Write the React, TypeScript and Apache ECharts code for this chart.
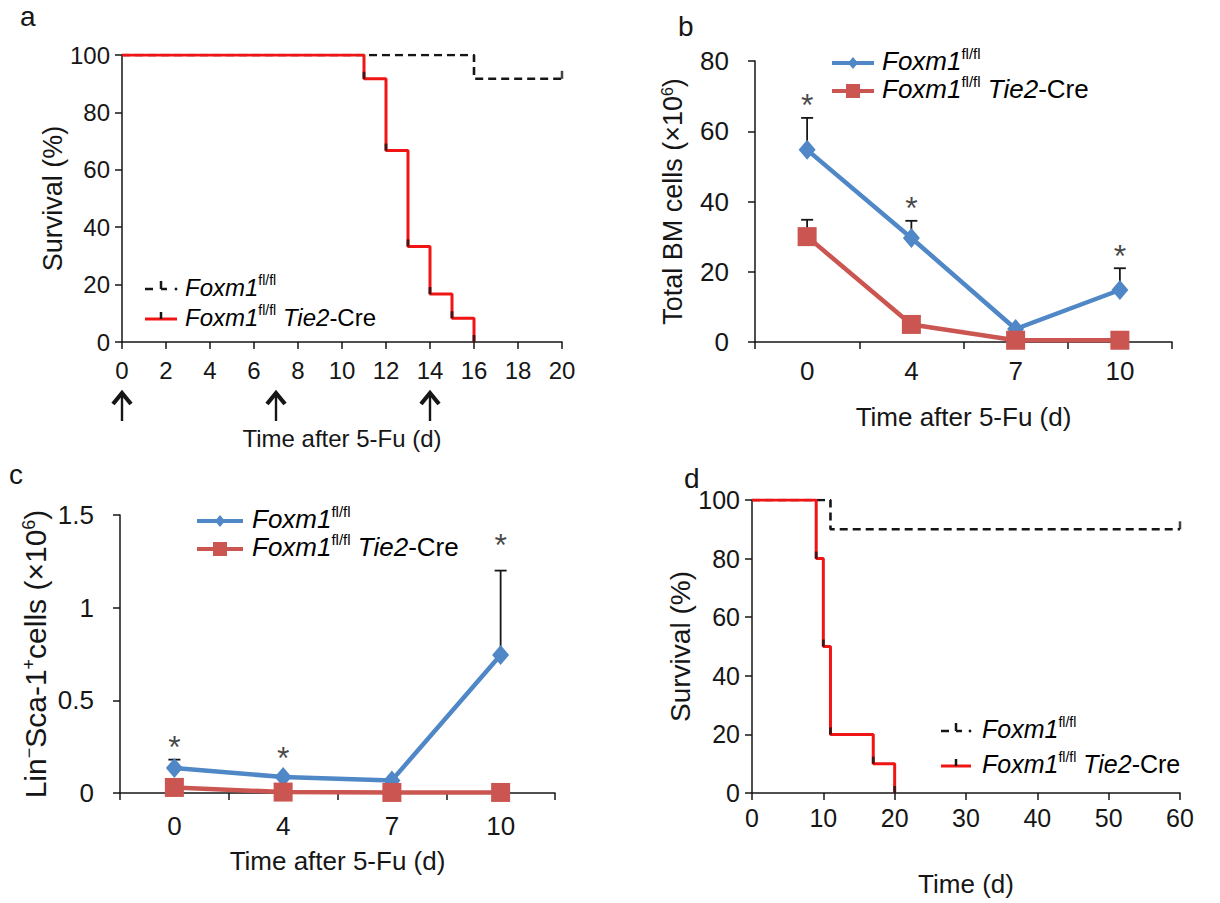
import React, { useEffect, useRef } from 'react';
import * as echarts from 'echarts';

// ---------- Panel a: survival after 5-FU ----------
const aDaysRed = [0, 11, 12, 13, 14, 15, 16];
const aSurvRed = [100, 91.7, 66.7, 33.3, 16.7, 8.3, 0];
const aDaysBlack = [0, 16, 20];
const aSurvBlack = [100, 91.7, 91.7];
const injectionDays = [0, 7, 14];
const aXTicks = { min: 0, max: 20, interval: 2 };
const survTicks = { min: 0, max: 100, interval: 20 };

// ---------- Panel b: total BM cells ----------
const timeCats = ['0', '4', '7', '10'];
const bBlue = [54.7, 29.6, 3.7, 14.8];
const bBlueErrTop = [63.8, 34.5, null, 21];
const bRed = [30, 5, 0.5, 0.5];
const bRedErrTop = [34.8, null, null, null];
const bStars = [63.8, 34.5, null, 21];
const bTicks = { min: 0, max: 80, interval: 20 };

// ---------- Panel c: Lin- Sca-1+ cells ----------
const cBlue = [0.135, 0.086, 0.068, 0.745];
const cBlueErrTop = [0.18, null, null, 1.2];
const cRed = [0.03, 0.005, 0.003, 0.003];
const cRedErrTop = [null, null, null, null];
const cStars = [0.18, 0.12, null, 1.27];
const cTicks = { min: 0, max: 1.5, interval: 0.5 };

// ---------- Panel d: survival ----------
const dDaysRed = [0, 9, 10, 11, 17, 20];
const dSurvRed = [100, 80, 50, 20, 10, 0];
const dDaysBlack = [0, 11, 60];
const dSurvBlack = [100, 90, 90];
const dXTicks = { min: 0, max: 60, interval: 10 };

const FONT = '"Liberation Sans", Arial, Helvetica, sans-serif';
const BLUE = '#4F87C7';
const RED = '#CB5550';
const KM_RED = '#F01414';
const INK = '#161616';

const zip = (xs: number[], ys: number[]) => xs.map((x, i) => [x, ys[i]]);

const errData = (vals: number[], tops: (number | null)[]) =>
  vals.map((v, i) => (tops[i] == null ? null : [i, v, tops[i]])).filter(Boolean);

const starData = (stars: (number | null)[]) =>
  stars.map((s, i) => (s == null ? null : [i, s])).filter(Boolean);

const errRender = (params: any, api: any) => {
  const x = api.value(0);
  const p0 = api.coord([x, api.value(1)]);
  const p1 = api.coord([x, api.value(2)]);
  return {
    type: 'group',
    children: [
      { type: 'line', shape: { x1: p0[0], y1: p0[1], x2: p1[0], y2: p1[1] }, style: { stroke: INK, lineWidth: 1.8 } },
      { type: 'line', shape: { x1: p1[0] - 6, y1: p1[1], x2: p1[0] + 6, y2: p1[1] }, style: { stroke: INK, lineWidth: 1.8 } },
    ],
  };
};

const arrowRender = (params: any, api: any) => {
  const p = api.coord([api.value(0), 0]);
  const x = p[0];
  const y0 = p[1] + 50;
  return {
    type: 'group',
    children: [
      { type: 'polyline', shape: { points: [[x - 9, y0 + 12], [x, y0 + 1], [x + 9, y0 + 12]] }, style: { stroke: INK, lineWidth: 4.2, fill: 'none' } },
      { type: 'line', shape: { x1: x, y1: y0 + 1, x2: x, y2: y0 + 29 }, style: { stroke: INK, lineWidth: 2.4 } },
    ],
  };
};

const axisLine = { show: true, lineStyle: { color: INK, width: 1.5 } };
const axisTick = { show: true, inside: false, length: 7, lineStyle: { color: INK, width: 1.5 } };

const nameRich = (size: number) => ({
  n: { fontSize: size, fontFamily: FONT, color: INK },
  s: { fontSize: Math.round(size * 0.6), fontFamily: FONT, color: INK, verticalAlign: 'top', lineHeight: size * 0.75 },
});

const legRich = (size: number) => ({
  i: { fontSize: size, fontFamily: FONT, fontStyle: 'italic', color: INK, lineHeight: size + 4 },
  n: { fontSize: size, fontFamily: FONT, color: INK, lineHeight: size + 4 },
  s: { fontSize: Math.round(size * 0.58), fontFamily: FONT, color: INK, verticalAlign: 'top', lineHeight: size * 0.8 },
});

const LEG1 = '{i|Foxm1}{s|fl/fl}';
const LEG2 = '{i|Foxm1}{s|fl/fl}{n| }{i|Tie2}{n|-Cre}';

function kmLegend(x1: number, x2: number, tx: number, y1: number, y2: number, size: number) {
  const mid = (x1 + x2) / 2;
  return [
    { type: 'line', shape: { x1, y1, x2: mid - 4, y2: y1 }, style: { stroke: INK, lineWidth: 2.5, lineDash: [8, 5] } },
    { type: 'line', shape: { x1: mid, y1: y1 - 8, x2: mid, y2: y1 }, style: { stroke: INK, lineWidth: 2.5 } },
    { type: 'line', shape: { x1: mid, y1, x2: mid + 6, y2: y1 }, style: { stroke: INK, lineWidth: 2.5 } },
    { type: 'circle', shape: { cx: x2 - 1, cy: y1, r: 1.4 }, style: { fill: INK } },
    { type: 'text', x: tx, y: y1 - 2, style: { text: LEG1, rich: legRich(size), verticalAlign: 'middle', align: 'left' } },
    { type: 'line', shape: { x1, y1: y2, x2, y2 }, style: { stroke: KM_RED, lineWidth: 3 } },
    { type: 'line', shape: { x1: mid, y1: y2 - 7, x2: mid, y2 }, style: { stroke: INK, lineWidth: 2.5 } },
    { type: 'text', x: tx, y: y2 - 2, style: { text: LEG2, rich: legRich(size), verticalAlign: 'middle', align: 'left' } },
  ];
}

function lineLegend(x1: number, x2: number, tx: number, y1: number, y2: number, size: number) {
  const mid = (x1 + x2) / 2;
  return [
    { type: 'line', shape: { x1, y1, x2, y2: y1 }, style: { stroke: BLUE, lineWidth: 4 } },
    { type: 'polygon', shape: { points: [[mid, y1 - 6], [mid + 5, y1], [mid, y1 + 6], [mid - 5, y1]] }, style: { fill: BLUE } },
    { type: 'text', x: tx, y: y1 - 2, style: { text: LEG1, rich: legRich(size), verticalAlign: 'middle', align: 'left' } },
    { type: 'line', shape: { x1, y1: y2, x2, y2 }, style: { stroke: RED, lineWidth: 4 } },
    { type: 'rect', shape: { x: mid - 7, y: y2 - 7, width: 14, height: 14 }, style: { fill: RED } },
    { type: 'text', x: tx, y: y2 - 2, style: { text: LEG2, rich: legRich(size), verticalAlign: 'middle', align: 'left' } },
  ];
}

const panelLetter = (t: string, x: number, y: number) => ({
  type: 'text', x, y, style: { text: t, fontSize: 28, fontFamily: FONT, fill: INK, verticalAlign: 'middle', align: 'left' },
});

function kmSeries(idx: number, daysR: number[], survR: number[], daysB: number[], survB: number[]) {
  const lastB = daysB.length - 1;
  return [
    {
      type: 'line', xAxisIndex: idx, yAxisIndex: idx, step: 'end', symbol: 'none',
      data: zip(daysB, survB), lineStyle: { color: INK, width: 2.6, type: [8, 5] }, z: 2,
    },
    {
      type: 'scatter', xAxisIndex: idx, yAxisIndex: idx, symbol: 'rect', symbolSize: [2.5, 8], symbolOffset: [0, -4],
      data: [[daysB[lastB], survB[lastB]]], itemStyle: { color: INK }, z: 3,
    },
    {
      type: 'line', xAxisIndex: idx, yAxisIndex: idx, step: 'end', symbol: 'none',
      data: zip(daysR, survR), lineStyle: { color: KM_RED, width: 3 }, z: 4,
    },
    {
      type: 'scatter', xAxisIndex: idx, yAxisIndex: idx, symbol: 'rect', symbolSize: [2.8, 7], symbolOffset: [0, -3.5],
      data: zip(daysR, survR).slice(1), itemStyle: { color: INK }, z: 5,
    },
  ];
}

function dataSeries(idx: number, blue: number[], red: number[], blueErr: (number | null)[], redErr: (number | null)[], stars: (number | null)[], starSize: number) {
  return [
    {
      type: 'custom', xAxisIndex: idx, yAxisIndex: idx, renderItem: errRender,
      data: [...errData(blue, blueErr), ...errData(red, redErr)], z: 1,
      encode: { x: 0, y: [1, 2] },
    },
    {
      type: 'line', xAxisIndex: idx, yAxisIndex: idx, data: blue, symbol: 'diamond', symbolSize: [17, 20],
      lineStyle: { color: BLUE, width: 4.5 }, itemStyle: { color: BLUE }, z: 3,
    },
    {
      type: 'line', xAxisIndex: idx, yAxisIndex: idx, data: red, symbol: 'rect', symbolSize: 19,
      lineStyle: { color: RED, width: 4.5 }, itemStyle: { color: RED }, z: 4,
    },
    {
      type: 'scatter', xAxisIndex: idx, yAxisIndex: idx, data: starData(stars), symbolSize: 1,
      itemStyle: { color: 'rgba(0,0,0,0)' }, z: 5,
      label: { show: true, formatter: '*', position: 'top', distance: -4, fontSize: starSize, fontFamily: FONT, color: INK },
    },
  ];
}

export default function App() {
  const ref = useRef<HTMLDivElement>(null);
  useEffect(() => {
    if (!ref.current) return;
    const chart = echarts.init(ref.current, null, { renderer: 'svg' });
    const lbl = (size: number, margin: number) => ({ fontSize: size, fontFamily: FONT, color: INK, margin });
    const option: any = {
      animation: false,
      backgroundColor: '#ffffff',
      textStyle: { fontFamily: FONT, color: INK },
      grid: [
        { left: 122, top: 55, width: 440, height: 287 },
        { left: 755, top: 61, width: 417, height: 281 },
        { left: 120, top: 515, width: 435, height: 278 },
        { left: 752, top: 500, width: 428, height: 293 },
      ],
      xAxis: [
        {
          type: 'value', gridIndex: 0, ...aXTicks, axisLine, axisTick, splitLine: { show: false },
          axisLabel: lbl(24, 16), name: 'Time after 5-Fu (d)', nameLocation: 'middle', nameGap: 84,
          nameTextStyle: { fontSize: 24, fontFamily: FONT, color: INK },
        },
        {
          type: 'category', gridIndex: 1, data: timeCats, boundaryGap: true, axisLine, axisTick,
          axisLabel: lbl(26, 16), name: 'Time after 5-Fu (d)', nameLocation: 'middle', nameGap: 62,
          nameTextStyle: { fontSize: 26, fontFamily: FONT, color: INK },
        },
        {
          type: 'category', gridIndex: 2, data: timeCats, boundaryGap: true, axisLine, axisTick,
          axisLabel: lbl(26, 20), name: 'Time after 5-Fu (d)', nameLocation: 'middle', nameGap: 55,
          nameTextStyle: { fontSize: 26, fontFamily: FONT, color: INK },
        },
        {
          type: 'value', gridIndex: 3, ...dXTicks, axisLine, axisTick, splitLine: { show: false },
          axisLabel: lbl(25, 12), name: 'Time (d)', nameLocation: 'middle', nameGap: 78,
          nameTextStyle: { fontSize: 26, fontFamily: FONT, color: INK },
        },
      ],
      yAxis: [
        {
          type: 'value', gridIndex: 0, ...survTicks, axisLine, axisTick, splitLine: { show: false },
          axisLabel: lbl(24, 12), name: 'Survival (%)', nameLocation: 'middle', nameGap: 53,
          nameTextStyle: { fontSize: 27, fontFamily: FONT, color: INK },
        },
        {
          type: 'value', gridIndex: 1, ...bTicks, axisLine, axisTick, splitLine: { show: false },
          axisLabel: lbl(26, 26), name: '{n|Total BM cells (×10}{s|6}{n|)}', nameLocation: 'middle', nameGap: 69,
          nameTextStyle: { fontSize: 27, fontFamily: FONT, color: INK, rich: nameRich(27) },
        },
        {
          type: 'value', gridIndex: 2, ...cTicks, axisLine, axisTick, splitLine: { show: false },
          axisLabel: lbl(26, 26), name: '{n|Lin}{s|−}{n|Sca-1}{s|+}{n|cells (×10}{s|6}{n|)}', nameLocation: 'middle', nameGap: 70,
          nameTextStyle: { fontSize: 30, fontFamily: FONT, color: INK, rich: nameRich(30) },
        },
        {
          type: 'value', gridIndex: 3, ...survTicks, axisLine, axisTick, splitLine: { show: false },
          axisLabel: lbl(25, 12), name: 'Survival (%)', nameLocation: 'middle', nameGap: 50,
          nameTextStyle: { fontSize: 28, fontFamily: FONT, color: INK },
        },
      ],
      series: [
        ...kmSeries(0, aDaysRed, aSurvRed, aDaysBlack, aSurvBlack),
        {
          type: 'custom', xAxisIndex: 0, yAxisIndex: 0, renderItem: arrowRender, clip: false,
          data: injectionDays.map((d) => [d, 0]), encode: { x: 0, y: 1 }, z: 6,
        },
        ...dataSeries(1, bBlue, bRed, bBlueErrTop, bRedErrTop, bStars, 32),
        ...dataSeries(2, cBlue, cRed, cBlueErrTop, cRedErrTop, cStars, 32),
        ...kmSeries(3, dDaysRed, dSurvRed, dDaysBlack, dSurvBlack),
      ],
      graphic: [
        panelLetter('a', 20, 16),
        panelLetter('b', 678, 26),
        panelLetter('c', 9, 474),
        panelLetter('d', 684, 478),
        ...kmLegend(145, 177, 185, 289, 319, 24),
        ...lineLegend(832, 874, 882, 63, 91, 26),
        ...lineLegend(197, 243, 252, 521, 549, 26),
        ...kmLegend(941, 971, 982, 731, 766, 25),
      ],
    };
    chart.setOption(option);
    return () => chart.dispose();
  }, []);
  return <div ref={ref} style={{ position: 'fixed', left: 0, top: 0, width: 1220, height: 903 }} />;
}
